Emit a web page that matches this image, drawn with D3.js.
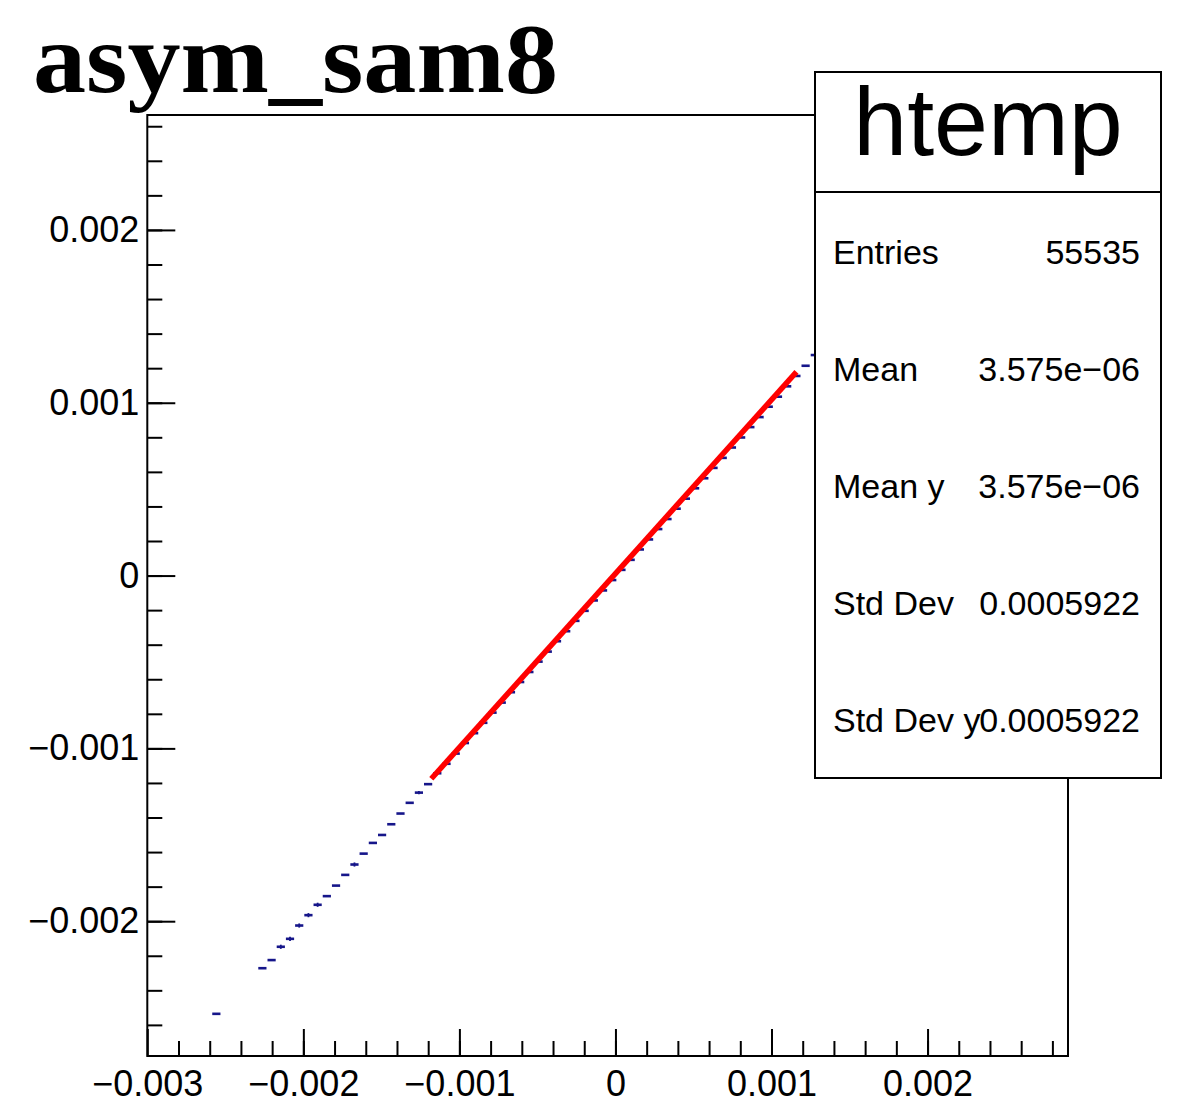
<!DOCTYPE html>
<html>
<head>
<meta charset="utf-8">
<script src="https://cdn.jsdelivr.net/npm/d3@7"></script>
<style>
  body { margin: 0; background: #fff; }
</style>
</head>
<body>
<div id="chart"></div>
<script>
// axis limits of htemp (100 bins in x)
var xLimits = [-0.003, 0.0029];
var yLimits = [-0.00278, 0.002665];
var nBins = 100;

// filled bins of the profile: bin index and mean y
var binIndex = [7, 12, 13, 14, 15, 16, 17, 18, 19, 20, 21, 22, 23, 24, 25, 26, 27, 28, 29, 30,
    31, 32, 33, 34, 35, 36, 37, 38, 39, 40, 41, 42, 43, 44, 45, 46, 47, 48, 49, 50,
    51, 52, 53, 54, 55, 56, 57, 58, 59, 60, 61, 62, 63, 64, 65, 66, 67, 68, 69, 70,
    71, 72];
var meanY = [-0.002536, -0.002272, -0.002225, -0.002148, -0.002102, -0.002025, -0.001965, -0.001905,
    -0.001855, -0.001794, -0.001732, -0.001672, -0.001609, -0.001547, -0.001501, -0.001439,
    -0.001377, -0.001315, -0.001256, -0.001207, -0.001144, -0.001089, -0.001030, -0.000969,
    -0.000912, -0.000852, -0.000793, -0.000735, -0.000675, -0.000616, -0.000558, -0.000498,
    -0.000440, -0.000380, -0.000322, -0.000262, -0.000204, -0.000144, -0.000086, -0.000026,
    0.000033, 0.000091, 0.000151, 0.000209, 0.000269, 0.000327, 0.000387, 0.000445,
    0.000505, 0.000563, 0.000623, 0.000681, 0.000741, 0.000799, 0.000859, 0.000917,
    0.000977, 0.001035, 0.001095, 0.001155, 0.001214, 0.001276];
var errY = [0.000002, 0.000004, 0.000003, 0.000012, 0.000012, 0.000012, 0.000012, 0.000012,
    0.000003, 0.000003, 0.000003, 0.000012, 0.000003, 0.000003, 0.000003, 0.000003,
    0.000003, 0.000003, 0.000010, 0.000003, 0.000003, 0.000002, 0.000002, 0.000002,
    0.000002, 0.000002, 0.000002, 0.000002, 0.000002, 0.000002, 0.000002, 0.000002,
    0.000002, 0.000002, 0.000002, 0.000002, 0.000002, 0.000002, 0.000002, 0.000002,
    0.000002, 0.000002, 0.000002, 0.000002, 0.000002, 0.000002, 0.000002, 0.000002,
    0.000002, 0.000002, 0.000002, 0.000002, 0.000002, 0.000002, 0.000002, 0.000002,
    0.000002, 0.000002, 0.000002, 0.000002, 0.000003, 0.000003];

// linear fit drawn in red
var fitRange = [-0.00118, 0.00116];
var fitPars = [0.0000114, 1.006];

var xMajor = [-0.003, -0.002, -0.001, 0, 0.001, 0.002];
var yMajor = [-0.002, -0.001, 0, 0.001, 0.002];

var statNames = ['Entries', 'Mean', 'Mean y', 'Std Dev', 'Std Dev y'];
var statValues = ['55535', '3.575e\u221206', '3.575e\u221206', '0.0005922', '0.0005922'];

var width = 1178;
var height = 1112;
var frame = {left: 147.3, right: 1068, top: 115, bottom: 1056};
var sans = '"Liberation Sans", Arial, Helvetica, sans-serif';
var serif = '"Liberation Serif", "Times New Roman", Times, serif';

var svg = d3.select('#chart')
    .append('svg')
    .attr('width', width)
    .attr('height', height)
    .style('font-family', sans);

svg.append('rect').attr('width', width).attr('height', height).attr('fill', '#fff');

var x = d3.scaleLinear().domain(xLimits).range([frame.left, frame.right]);
var y = d3.scaleLinear().domain(yLimits).range([frame.bottom, frame.top]);

var binW = (xLimits[1] - xLimits[0]) / nBins;
var minorX = d3.range(-14, 15).map((i) => i * 0.0002).filter((v) => v > xLimits[0] && v < xLimits[1]);
var minorY = d3.range(-13, 14).map((i) => i * 0.0002).filter((v) => v > yLimits[0] && v < yLimits[1]);

var fmt = (v) => Math.abs(v) < 1e-12 ? '0' : d3.format('.3f')(v);

// minor ticks
svg.append('g')
    .attr('transform', `translate(0, ${frame.bottom})`)
    .call(d3.axisBottom(x).tickValues(minorX).tickSize(-15).tickFormat(''))
    .call((g) => g.select('.domain').remove());
svg.append('g')
    .attr('transform', `translate(${frame.left}, 0)`)
    .call(d3.axisLeft(y).tickValues(minorY).tickSize(-15).tickFormat(''))
    .call((g) => g.select('.domain').remove());

// major ticks + labels
var xAxis = svg.append('g')
    .attr('transform', `translate(0, ${frame.bottom})`)
    .call(d3.axisBottom(x).tickValues(xMajor).tickSize(-27).tickPadding(14).tickFormat(fmt));
xAxis.select('.domain').remove();
xAxis.selectAll('text').attr('font-size', 36).attr('fill', '#000').style('font-family', sans);

var yAxis = svg.append('g')
    .attr('transform', `translate(${frame.left}, 0)`)
    .call(d3.axisLeft(y).tickValues(yMajor).tickSize(-28).tickPadding(8).tickFormat(fmt));
yAxis.select('.domain').remove();
yAxis.selectAll('text').attr('font-size', 36).attr('fill', '#000').style('font-family', sans);

svg.selectAll('.tick line').attr('stroke', '#000').attr('stroke-width', 2);

// frame
svg.append('rect')
    .attr('x', frame.left)
    .attr('y', frame.top)
    .attr('width', frame.right - frame.left)
    .attr('height', frame.bottom - frame.top)
    .attr('fill', 'none')
    .attr('stroke', '#000')
    .attr('stroke-width', 2);

// profile points: horizontal bar = bin width, vertical bar = error
var pts = binIndex.map((k, i) => ({
    lo: xLimits[0] + k * binW,
    hi: xLimits[0] + (k + 1) * binW,
    c: xLimits[0] + (k + 0.5) * binW,
    y: meanY[i],
    e: errY[i]
}));

var prof = svg.append('g').attr('stroke', '#16168a').attr('stroke-width', 2.6);
prof.selectAll('.hbar')
    .data(pts)
    .enter()
    .append('line')
    .attr('x1', (d) => x(d.lo) + 0.5)
    .attr('x2', (d) => x(d.hi) - 0.5)
    .attr('y1', (d) => y(d.y))
    .attr('y2', (d) => y(d.y));
prof.selectAll('.vbar')
    .data(pts)
    .enter()
    .append('line')
    .attr('x1', (d) => x(d.c))
    .attr('x2', (d) => x(d.c))
    .attr('y1', (d) => y(d.y - d.e))
    .attr('y2', (d) => y(d.y + d.e))
    .attr('stroke-width', 1.8);

// fit line
var fitLine = d3.line().x((d) => x(d)).y((d) => y(fitPars[0] + fitPars[1] * d));
svg.append('path')
    .attr('d', fitLine(fitRange))
    .attr('fill', 'none')
    .attr('stroke', '#ff0000')
    .attr('stroke-width', 5.5);

// title
svg.append('text')
    .attr('x', 33)
    .attr('y', 92)
    .style('font-family', serif)
    .attr('font-weight', 'bold')
    .attr('font-size', 100)
    .attr('textLength', 525)
    .attr('lengthAdjust', 'spacingAndGlyphs')
    .text('asym_sam8');

// stats box
var box = {x: 815, y: 72, w: 346, h: 706, head: 120};
svg.append('rect')
    .attr('x', box.x)
    .attr('y', box.y)
    .attr('width', box.w)
    .attr('height', box.h)
    .attr('fill', '#fff')
    .attr('stroke', '#000')
    .attr('stroke-width', 2);
svg.append('line')
    .attr('x1', box.x).attr('x2', box.x + box.w)
    .attr('y1', box.y + box.head).attr('y2', box.y + box.head)
    .attr('stroke', '#000')
    .attr('stroke-width', 2);
svg.append('text')
    .attr('x', box.x + box.w / 2)
    .attr('y', 155)
    .attr('text-anchor', 'middle')
    .attr('font-size', 97)
    .text('htemp');

var rows = svg.append('g').attr('font-size', 34);
rows.selectAll('.name')
    .data(statNames)
    .enter()
    .append('text')
    .attr('x', 833)
    .attr('y', (d, i) => 264 + i * 117)
    .text((d) => d);
rows.selectAll('.val')
    .data(statValues)
    .enter()
    .append('text')
    .attr('x', 1140)
    .attr('y', (d, i) => 264 + i * 117)
    .attr('text-anchor', 'end')
    .text((d) => d);
</script>
</body>
</html>
